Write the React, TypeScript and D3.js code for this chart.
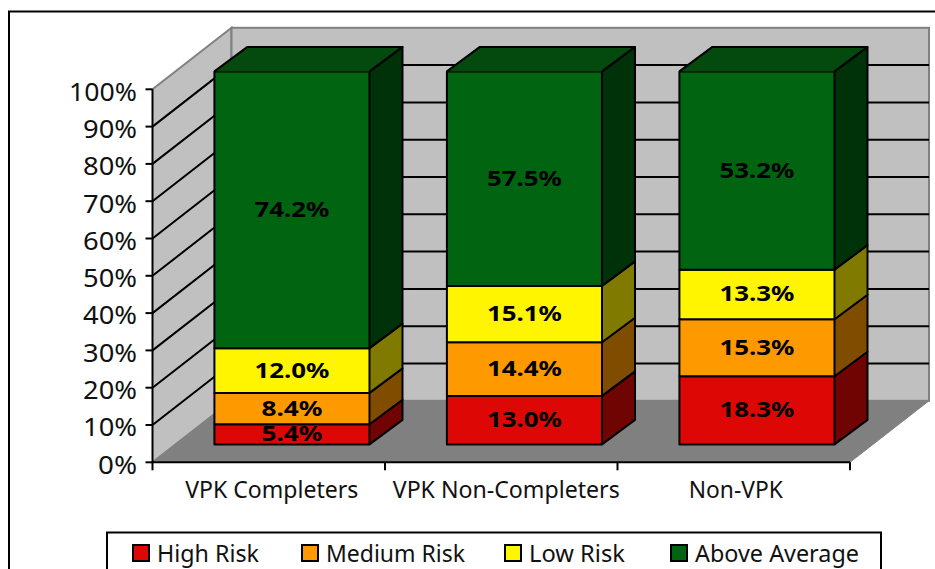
import * as d3 from "d3"

const categories = ["VPK Completers", "VPK Non-Completers", "Non-VPK"]
const seriesNames = ["High Risk", "Medium Risk", "Low Risk", "Above Average"]
const highRisk = [5.4, 13.0, 18.3]
const mediumRisk = [8.4, 14.4, 15.3]
const lowRisk = [12.0, 15.1, 13.3]
const aboveAverage = [74.2, 57.5, 53.2]
const yTicks = [0, 10, 20, 30, 40, 50, 60, 70, 80, 90, 100]

const FRONT = ["#DD0806", "#FF9900", "#FFF500", "#006411"]
const FONT = "'Noto Sans', Tahoma, sans-serif"

// plot box of the fake 3d chart
const X0 = 152.5, X1 = 850, Y0 = 462.3, Y100 = 89.3
const WALL_DX = 79, WALL_DY = 61.5
const BAR_OX = 23.2, BAR_OY = 17.9 // front face sits this far into the depth
const BAR_DX = 33, BAR_DY = 24.5

const legendX = [133, 302, 505, 671]

const half = (c: string) => {
  const r = d3.rgb(c)
  return d3.rgb(r.r * 0.5, r.g * 0.5, r.b * 0.5).formatHex()
}

export default function App() {
  const x = d3.scaleBand<string>().domain(categories).range([X0, X1]).paddingInner(0.333).paddingOuter(0.1665)
  const y = d3.scaleLinear().domain([0, 1]).range([Y0, Y100])
  const yAxis = d3.scaleLinear().domain([0, 100]).range([Y0, Y100])
  const rows = categories.map((c, i) => ({ c, s0: highRisk[i], s1: mediumRisk[i], s2: lowRisk[i], s3: aboveAverage[i] }))
  const stack = d3.stack<any>().keys(["s0", "s1", "s2", "s3"]).offset(d3.stackOffsetExpand)(rows)
  const poly = d3.line()
  const labelsOf = [highRisk, mediumRisk, lowRisk, aboveAverage]
  const tickX = [0, 1, 2].map(i => x(categories[i])! - (x.step() - x.bandwidth()) / 2).concat(X1)

  return (
    <svg width={935} height={569} style={{ position: "absolute", left: 0, top: 0, background: "#fff" }} fontFamily={FONT}>
      <rect x={9} y={11.5} width={960} height={600} fill="#fff" stroke="#000" strokeWidth={2} />

      {/* walls and floor */}
      <path d={poly([[X0, Y0], [X0 + WALL_DX, Y0 - WALL_DY], [X0 + WALL_DX, Y100 - WALL_DY], [X0, Y100]])!} fill="#C0C0C0" stroke="#808080" strokeWidth={2} />
      <rect x={X0 + WALL_DX} y={Y100 - WALL_DY} width={X1 - X0} height={Y0 - Y100} fill="#C0C0C0" stroke="#808080" strokeWidth={2} />
      <path d={poly([[X0, Y0], [X0 + WALL_DX, Y0 - WALL_DY], [X1 + WALL_DX, Y0 - WALL_DY], [X1, Y0]])!} fill="#808080" stroke="#808080" strokeWidth={1} />

      {/* gridlines */}
      {yTicks.filter(t => t > 0 && t < 100).map(t => (
        <path key={t} fill="none" stroke="#000" strokeWidth={2}
          d={poly([[X0, yAxis(t)], [X0 + WALL_DX, yAxis(t) - WALL_DY], [X1 + WALL_DX, yAxis(t) - WALL_DY]])!} />
      ))}

      {/* axes */}
      <path d={`M${X0},${Y100}V${Y0}H${X1}`} fill="none" stroke="#000" strokeWidth={2} />
      {yTicks.map(t => (
        <g key={t}>
          <line x1={X0 - 7} x2={X0} y1={yAxis(t)} y2={yAxis(t)} stroke="#000" strokeWidth={2} />
          <text x={137} y={yAxis(t) + 2} dy="0.36em" textAnchor="end" fontSize={26} fill="#111" textLength={t === 100 ? 68 : t === 0 ? 39 : 54} lengthAdjust="spacingAndGlyphs">{t}%</text>
        </g>
      ))}
      {tickX.map((t, i) => <line key={i} x1={t} x2={t} y1={Y0} y2={Y0 + 8} stroke="#000" strokeWidth={2} />)}
      {categories.map((c, i) => (
        <text key={c} x={x(c)! + x.bandwidth() / 2 + [3, 5, 2][i]} y={498} textAnchor="middle" fontSize={23} fill="#111"
          textLength={[173, 227, 94][i]} lengthAdjust="spacingAndGlyphs">{c}</text>
      ))}

      {/* bars */}
      {categories.map((c, i) => {
        const L = x(c)! + BAR_OX, R = L + x.bandwidth()
        const yy = (v: number) => y(v) - BAR_OY
        const topY = yy(1)
        return (
          <g key={c} stroke="#000" strokeWidth={2} strokeLinejoin="round">
            {stack.map((s, k) => {
              const a = yy(s[i][0]), b = yy(s[i][1])
              return (
                <g key={k}>
                  <path d={poly([[R, a], [R + BAR_DX, a - BAR_DY], [R + BAR_DX, b - BAR_DY], [R, b]])!} fill={half(FRONT[k])} />
                  <rect x={L} y={b} width={R - L} height={a - b} fill={FRONT[k]} />
                </g>
              )
            })}
            <path d={poly([[L, topY], [L + BAR_DX, topY - BAR_DY], [R + BAR_DX, topY - BAR_DY], [R, topY]])!} fill="#04490D" />
          </g>
        )
      })}

      {/* value labels */}
      {categories.map((c, i) => stack.map((s, k) => {
        const L = x(c)! + BAR_OX
        const mid = (y(s[i][0]) + y(s[i][1])) / 2 - BAR_OY - 0.5
        return (
          <text key={c + k} x={L + x.bandwidth() / 2} y={mid} dy="0.36em" textAnchor="middle" fontSize={21} fontWeight="bold" fill="#000"
            textLength={k === 0 && i === 0 || k === 1 && i === 0 ? 61 : 75} lengthAdjust="spacingAndGlyphs">
            {labelsOf[k][i].toFixed(1)}%
          </text>
        )
      }))}

      {/* legend */}
      <rect x={107} y={532.5} width={774} height={60} fill="#fff" stroke="#000" strokeWidth={2} />
      {seriesNames.map((n, i) => (
        <g key={n}>
          <rect x={legendX[i]} y={545} width={16} height={16} fill={FRONT[i]} stroke="#000" strokeWidth={2} />
          <text x={legendX[i] + 24} y={562} fontSize={23} fill="#111" textLength={[102, 139, 96, 164][i]} lengthAdjust="spacingAndGlyphs">{n}</text>
        </g>
      ))}
    </svg>
  )
}
